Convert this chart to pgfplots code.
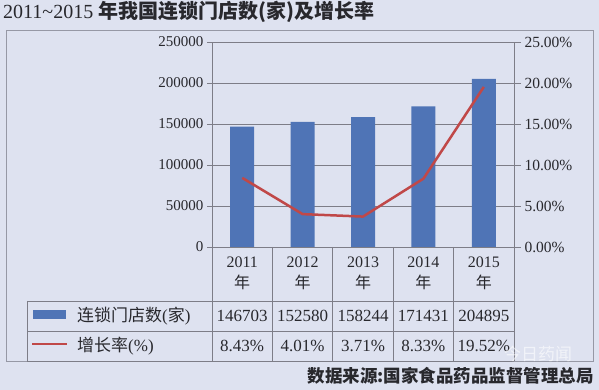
\documentclass[border=0pt]{standalone}
\usepackage{pgfplots}
\pgfplotsset{compat=1.18}
\usepackage{pgfplotstable}
\usepackage{fontspec}
\setmainfont{Liberation Serif}
\newfontfamily\cjk{Noto Sans CJK SC}
\definecolor{bg}{RGB}{222,226,240}
\definecolor{barblue}{RGB}{79,116,182}
\definecolor{linered}{RGB}{192,72,72}
\definecolor{gridc}{RGB}{125,125,135}
\definecolor{framec}{RGB}{150,152,165}
\definecolor{txt}{RGB}{40,40,45}

\pgfplotstableread{
x stores growth
0 146703 8.43
1 152580 4.01
2 158244 3.71
3 171431 8.33
4 204895 19.52
}\data

\begin{document}
\begin{tikzpicture}[x=1pt,y=1pt]
\fill[bg] (0,0) rectangle (599,390);
\useasboundingbox (0,0) rectangle (599,390);
\draw[framec, line width=0.8pt] (6,28.5) rectangle (593,359.5);

\begin{axis}[at={(212pt,143pt)}, anchor=south west, scale only axis, width=302pt, height=205pt,
 xmin=-0.5, xmax=4.5, ymin=0, ymax=250000, xtick=\empty,
 ytick={0,50000,...,250000}, ymajorgrids, grid style={gridc, line width=0.9pt},
 axis line style={gridc, line width=0.9pt}, tick style={gridc, line width=0.9pt},
 major tick length=5pt, tick align=outside, ytick pos=left,
 scaled y ticks=false,
 yticklabel style={/pgf/number format/fixed, /pgf/number format/1000 sep={}, font=\fontsize{15}{18}\selectfont, text=txt},
 /pgf/number format/assume math mode=true,
 clip=false]
\addplot[ybar, bar width=24pt, fill=barblue, draw=none] table[x=x,y=stores]{\data};
\end{axis}

\begin{axis}[at={(212pt,143pt)}, anchor=south west, scale only axis, width=302pt, height=205pt,
 xmin=-0.5, xmax=4.5, ymin=0, ymax=25, hide x axis, axis y line*=right,
 ytick={0,5,...,25},
 yticklabel={\pgfmathprintnumber[fixed, fixed zerofill, precision=2]{\tick}\%},
 /pgf/number format/assume math mode=true,
 axis line style={gridc, line width=0.9pt}, tick style={gridc, line width=0.9pt},
 major tick length=7pt, tick align=outside,
 yticklabel style={font=\fontsize{15.5}{18}\selectfont, text=txt},
 clip=false]
\addplot[linered, line width=2.5pt, no marks, line join=round] table[x=x,y=growth]{\data};
\foreach \i/\yr in {0/2011,1/2012,2/2013,3/2014,4/2015}{
  \edef\temp{\noexpand\node[font=\noexpand\fontsize{16}{21}\noexpand\selectfont, align=center, text=txt, yshift=-26pt] at (axis cs:\i,0) {\yr\noexpand\\{\noexpand\cjk 年}};}
  \temp
}
\node[font=\fontsize{17}{20}\selectfont, text=txt, yshift=-69pt] at (axis cs:0,0) {146703};
\node[font=\fontsize{17}{20}\selectfont, text=txt, yshift=-69pt] at (axis cs:1,0) {152580};
\node[font=\fontsize{17}{20}\selectfont, text=txt, yshift=-69pt] at (axis cs:2,0) {158244};
\node[font=\fontsize{17}{20}\selectfont, text=txt, yshift=-69pt] at (axis cs:3,0) {171431};
\node[font=\fontsize{17}{20}\selectfont, text=txt, yshift=-69pt] at (axis cs:4,0) {204895};
\node[font=\fontsize{17}{20}\selectfont, text=txt, yshift=-99pt] at (axis cs:0,0) {8.43\%};
\node[font=\fontsize{17}{20}\selectfont, text=txt, yshift=-99pt] at (axis cs:1,0) {4.01\%};
\node[font=\fontsize{17}{20}\selectfont, text=txt, yshift=-99pt] at (axis cs:2,0) {3.71\%};
\node[font=\fontsize{17}{20}\selectfont, text=txt, yshift=-99pt] at (axis cs:3,0) {8.33\%};
\node[font=\fontsize{17}{20}\selectfont, text=txt, yshift=-99pt] at (axis cs:4,0) {19.52\%};
\end{axis}

% table grid
\draw[gridc, line width=0.9pt] (27,89) -- (514,89) (27,59) -- (514,59) (27,29) -- (514,29) (27,89) -- (27,29);
\foreach \x in {212,272.4,332.8,393.2,453.6,514} \draw[gridc, line width=0.9pt] (\x,143) -- (\x,29);

% legend keys
\fill[barblue] (33,71) rectangle (66,80);
\draw[linered, line width=2.5pt] (32,46) -- (67,46);
\node[anchor=west, inner sep=0, text=txt, font=\fontsize{17}{20}\selectfont] at (77,74) {{\cjk 连锁门店数}({\cjk 家})};
\node[anchor=west, inner sep=0, text=txt, font=\fontsize{17}{20}\selectfont] at (77,44) {{\cjk 增长率}(\%)};

% title
\node[anchor=west, inner sep=0, text=txt] at (3,378) {\fontsize{20}{24}\selectfont 2011\textasciitilde 2015 {\cjk\bfseries 年我国连锁门店数(家)及增长率}};

% source
\node[anchor=east, inner sep=0, text=txt] at (594,14) {\fontsize{17.5}{20}\selectfont\cjk\bfseries 数据来源:国家食品药品监督管理总局};

% watermark
\node[text=white, opacity=0.6, font=\fontsize{17}{20}\selectfont\cjk] at (538,36) {今日药闻};
\end{tikzpicture}
\end{document}
